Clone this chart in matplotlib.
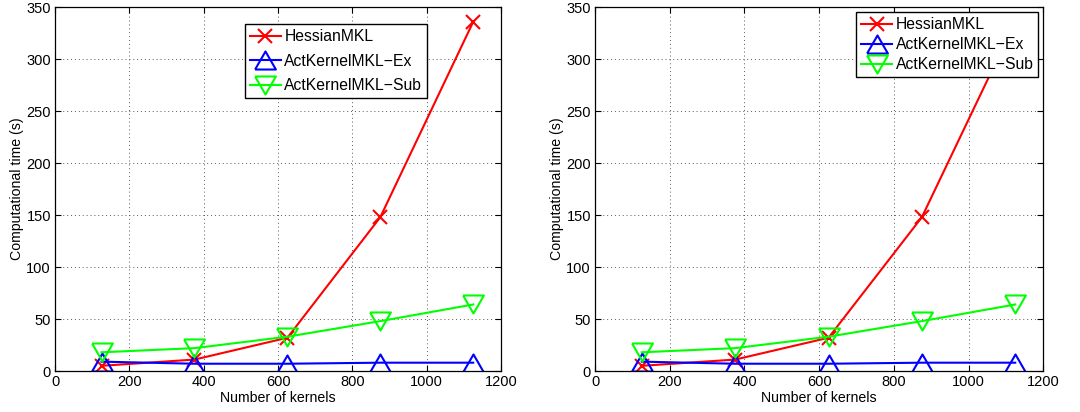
import numpy as np
import matplotlib
matplotlib.use("Agg")
import matplotlib.pyplot as plt

plt.rcParams['font.family'] = ['Liberation Sans', 'DejaVu Sans']

# data
kernels = [125, 375, 625, 875, 1125]
hessian = [5, 11, 32, 148, 336]
act_ex = [9, 7, 7, 8, 8]
act_sub = [18, 22, 33, 48, 64]

labels = ["HessianMKL", "ActKernelMKL\u2212Ex", "ActKernelMKL\u2212Sub"]
xticks = [0, 200, 400, 600, 800, 1000, 1200]
yticks = [0, 50, 100, 150, 200, 250, 300, 350]

# matlab style equilateral triangles
tri_up = [(-1, -0.866), (1, -0.866), (0, 0.866), (-1, -0.866)]
tri_down = [(-1, 0.866), (1, 0.866), (0, -0.866), (-1, 0.866)]


def draw(ax, legend_anchor, spacing):
    ax.plot(kernels, hessian, color=(1, 0, 0), lw=1.5, marker='x',
            ms=9.5, mew=1.5, label=labels[0])
    ax.plot(kernels, act_ex, color=(0, 0, 1), lw=1.5, marker=tri_up,
            ms=15, mfc='none', mew=1.5, label=labels[1])
    ax.plot(kernels, act_sub, color=(0, 1, 0), lw=1.5, marker=tri_down,
            ms=15, mfc='none', mew=1.5, label=labels[2])
    ax.set_xlim(0, 1200)
    ax.set_ylim(0, 350)
    ax.set_xticks(xticks)
    ax.set_yticks(yticks)
    ax.grid(True, linestyle=(0, (1, 3)), color='0.35', lw=0.7)
    ax.tick_params(direction='in', top=True, right=True, labelsize=10.5,
                   length=4, width=0.8, pad=3)
    for s in ax.spines.values():
        s.set_linewidth(0.9)
    ax.set_xlabel("Number of kernels", fontsize=10.2, labelpad=1)
    ax.set_ylabel("Computational time (s)", fontsize=10.2, labelpad=2)
    leg = ax.legend(loc='upper left', bbox_to_anchor=legend_anchor,
                    fontsize=11.3, fancybox=False, framealpha=1,
                    edgecolor='black', handlelength=2.0, borderpad=0.3,
                    labelspacing=spacing, handletextpad=0.2, borderaxespad=0)
    leg.get_frame().set_linewidth(1.0)


fig = plt.figure(figsize=(10.8, 4.12), dpi=100)
ax1 = fig.add_axes([0.051, 0.0995, 0.413, 0.883])
ax2 = fig.add_axes([0.551, 0.0995, 0.415, 0.883])

draw(ax1, (0.426, 0.953), 0.62)
draw(ax2, (0.583, 0.986), 0.32)

fig.savefig("out.png", dpi=100)
